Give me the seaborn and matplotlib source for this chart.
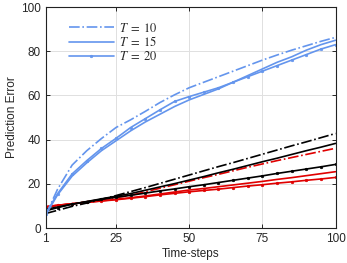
import seaborn as sns
import matplotlib.pyplot as plt
from matplotlib.lines import Line2D

# time steps and prediction errors
steps = [1, 5, 10, 15, 20, 25, 30, 35, 40, 45, 50, 55, 60, 65, 70, 75, 80, 85, 90, 95, 100]

blue_t10 = [6.0, 17.5, 28.5, 35.0, 40.5, 45.5, 49.0, 52.8, 56.8, 60.3, 63.5, 66.0, 68.5, 71.0, 73.5, 76.0, 78.3, 80.5, 82.5, 84.5, 86.3]
blue_t15 = [6.0, 15.0, 23.5, 29.5, 35.0, 39.5, 44.0, 48.0, 51.5, 55.0, 58.0, 60.5, 63.0, 66.0, 69.0, 72.0, 75.0, 77.5, 80.5, 83.0, 85.0]
blue_t20 = [6.5, 15.5, 24.5, 30.5, 36.0, 40.6, 45.5, 49.5, 53.5, 57.3, 59.5, 61.5, 63.5, 66.0, 68.5, 71.0, 73.5, 76.0, 78.5, 81.0, 83.0]

black_t10 = [6.6, 8.0, 9.8, 11.3, 13.0, 14.7, 16.5, 18.3, 20.2, 22.1, 24.0, 25.9, 27.8, 29.6, 31.5, 33.4, 35.3, 37.2, 39.0, 40.9, 42.8]
black_t15 = [8.5, 9.5, 10.8, 12.0, 13.2, 14.4, 15.6, 17.1, 18.6, 20.1, 21.7, 23.3, 25.0, 26.6, 28.3, 30.0, 31.6, 33.3, 35.0, 36.6, 38.3]
black_t20 = [7.8, 9.2, 10.8, 11.9, 13.0, 13.9, 14.8, 15.8, 16.8, 17.7, 18.7, 19.6, 20.6, 21.6, 22.6, 23.6, 24.7, 25.7, 26.7, 27.7, 28.8]

red_t10 = [9.5, 10.2, 11.0, 11.9, 12.8, 13.8, 14.8, 16.4, 18.0, 19.6, 21.2, 22.8, 24.3, 25.9, 27.5, 29.0, 30.5, 31.9, 33.3, 34.7, 36.1]
red_t15 = [9.6, 10.3, 11.0, 11.6, 12.3, 13.0, 13.7, 14.5, 15.4, 16.3, 17.2, 17.9, 18.7, 19.5, 20.3, 21.1, 22.0, 22.8, 23.7, 24.6, 25.5]
red_t20 = [9.7, 10.3, 11.0, 11.6, 12.2, 12.8, 13.5, 14.2, 15.0, 15.7, 16.4, 17.0, 17.6, 18.3, 19.0, 19.6, 20.3, 20.9, 21.6, 22.2, 22.9]

x_ticks = [1, 25, 50, 75, 100]
y_ticks = [0, 20, 40, 60, 80, 100]
legend_labels = [r'$T\;=\;10$', r'$T\;=\;15$', r'$T\;=\;20$']

sns.set_style("ticks")
plt.rcParams['font.family'] = ['Liberation Sans', 'DejaVu Sans']
plt.rcParams['mathtext.fontset'] = 'stix'

blue = '#6495ED'
red = '#E00000'
black = '#000000'

fig = plt.figure(figsize=(3.47, 2.63), dpi=100)
ax = fig.add_axes([0.132, 0.133, 0.835, 0.840])

series = [
    (red_t15, red, '-', None),
    (red_t20, red, '-', 'o'),
    (red_t10, red, '-.', None),
    (black_t15, black, '-', None),
    (black_t20, black, '-', 'o'),
    (black_t10, black, '-.', None),
    (blue_t10, blue, '-.', None),
    (blue_t15, blue, '-', None),
    (blue_t20, blue, '-', 'o'),
]

for vals, col, ls, mk in series:
    sns.lineplot(x=steps, y=vals, ax=ax, color=col, linestyle=ls,
                 marker=mk, markersize=1.8, markeredgecolor=col,
                 markeredgewidth=0.5, linewidth=1.2, legend=False)

ax.set_xlim(1, 100)
ax.set_ylim(0, 100)
ax.set_xticks(x_ticks)
ax.set_yticks(y_ticks)
ax.grid(True, color='#e0e0e0', linewidth=0.7)
ax.set_axisbelow(True)
ax.tick_params(direction='in', top=True, right=True, labelsize=8.5, length=3, width=0.7)
for s in ax.spines.values():
    s.set_color('#222222')
    s.set_linewidth(0.8)

ax.set_xlabel("Time-steps", fontsize=8.5, labelpad=2)
ax.set_ylabel("Prediction Error", fontsize=8.5, labelpad=2)

handles = [
    Line2D([], [], color=blue, linestyle='-.', linewidth=1.2),
    Line2D([], [], color=blue, linestyle='-', linewidth=1.2),
    Line2D([], [], color=blue, linestyle='-', marker='o', markersize=1.8,
           markeredgewidth=0.5, linewidth=1.2),
]
ax.legend(handles, legend_labels, loc='upper left', bbox_to_anchor=(0.04, 0.985),
          frameon=False, fontsize=9, handlelength=3.6, labelspacing=0.05,
          handletextpad=0.4)

fig.savefig("out.png", dpi=100)
